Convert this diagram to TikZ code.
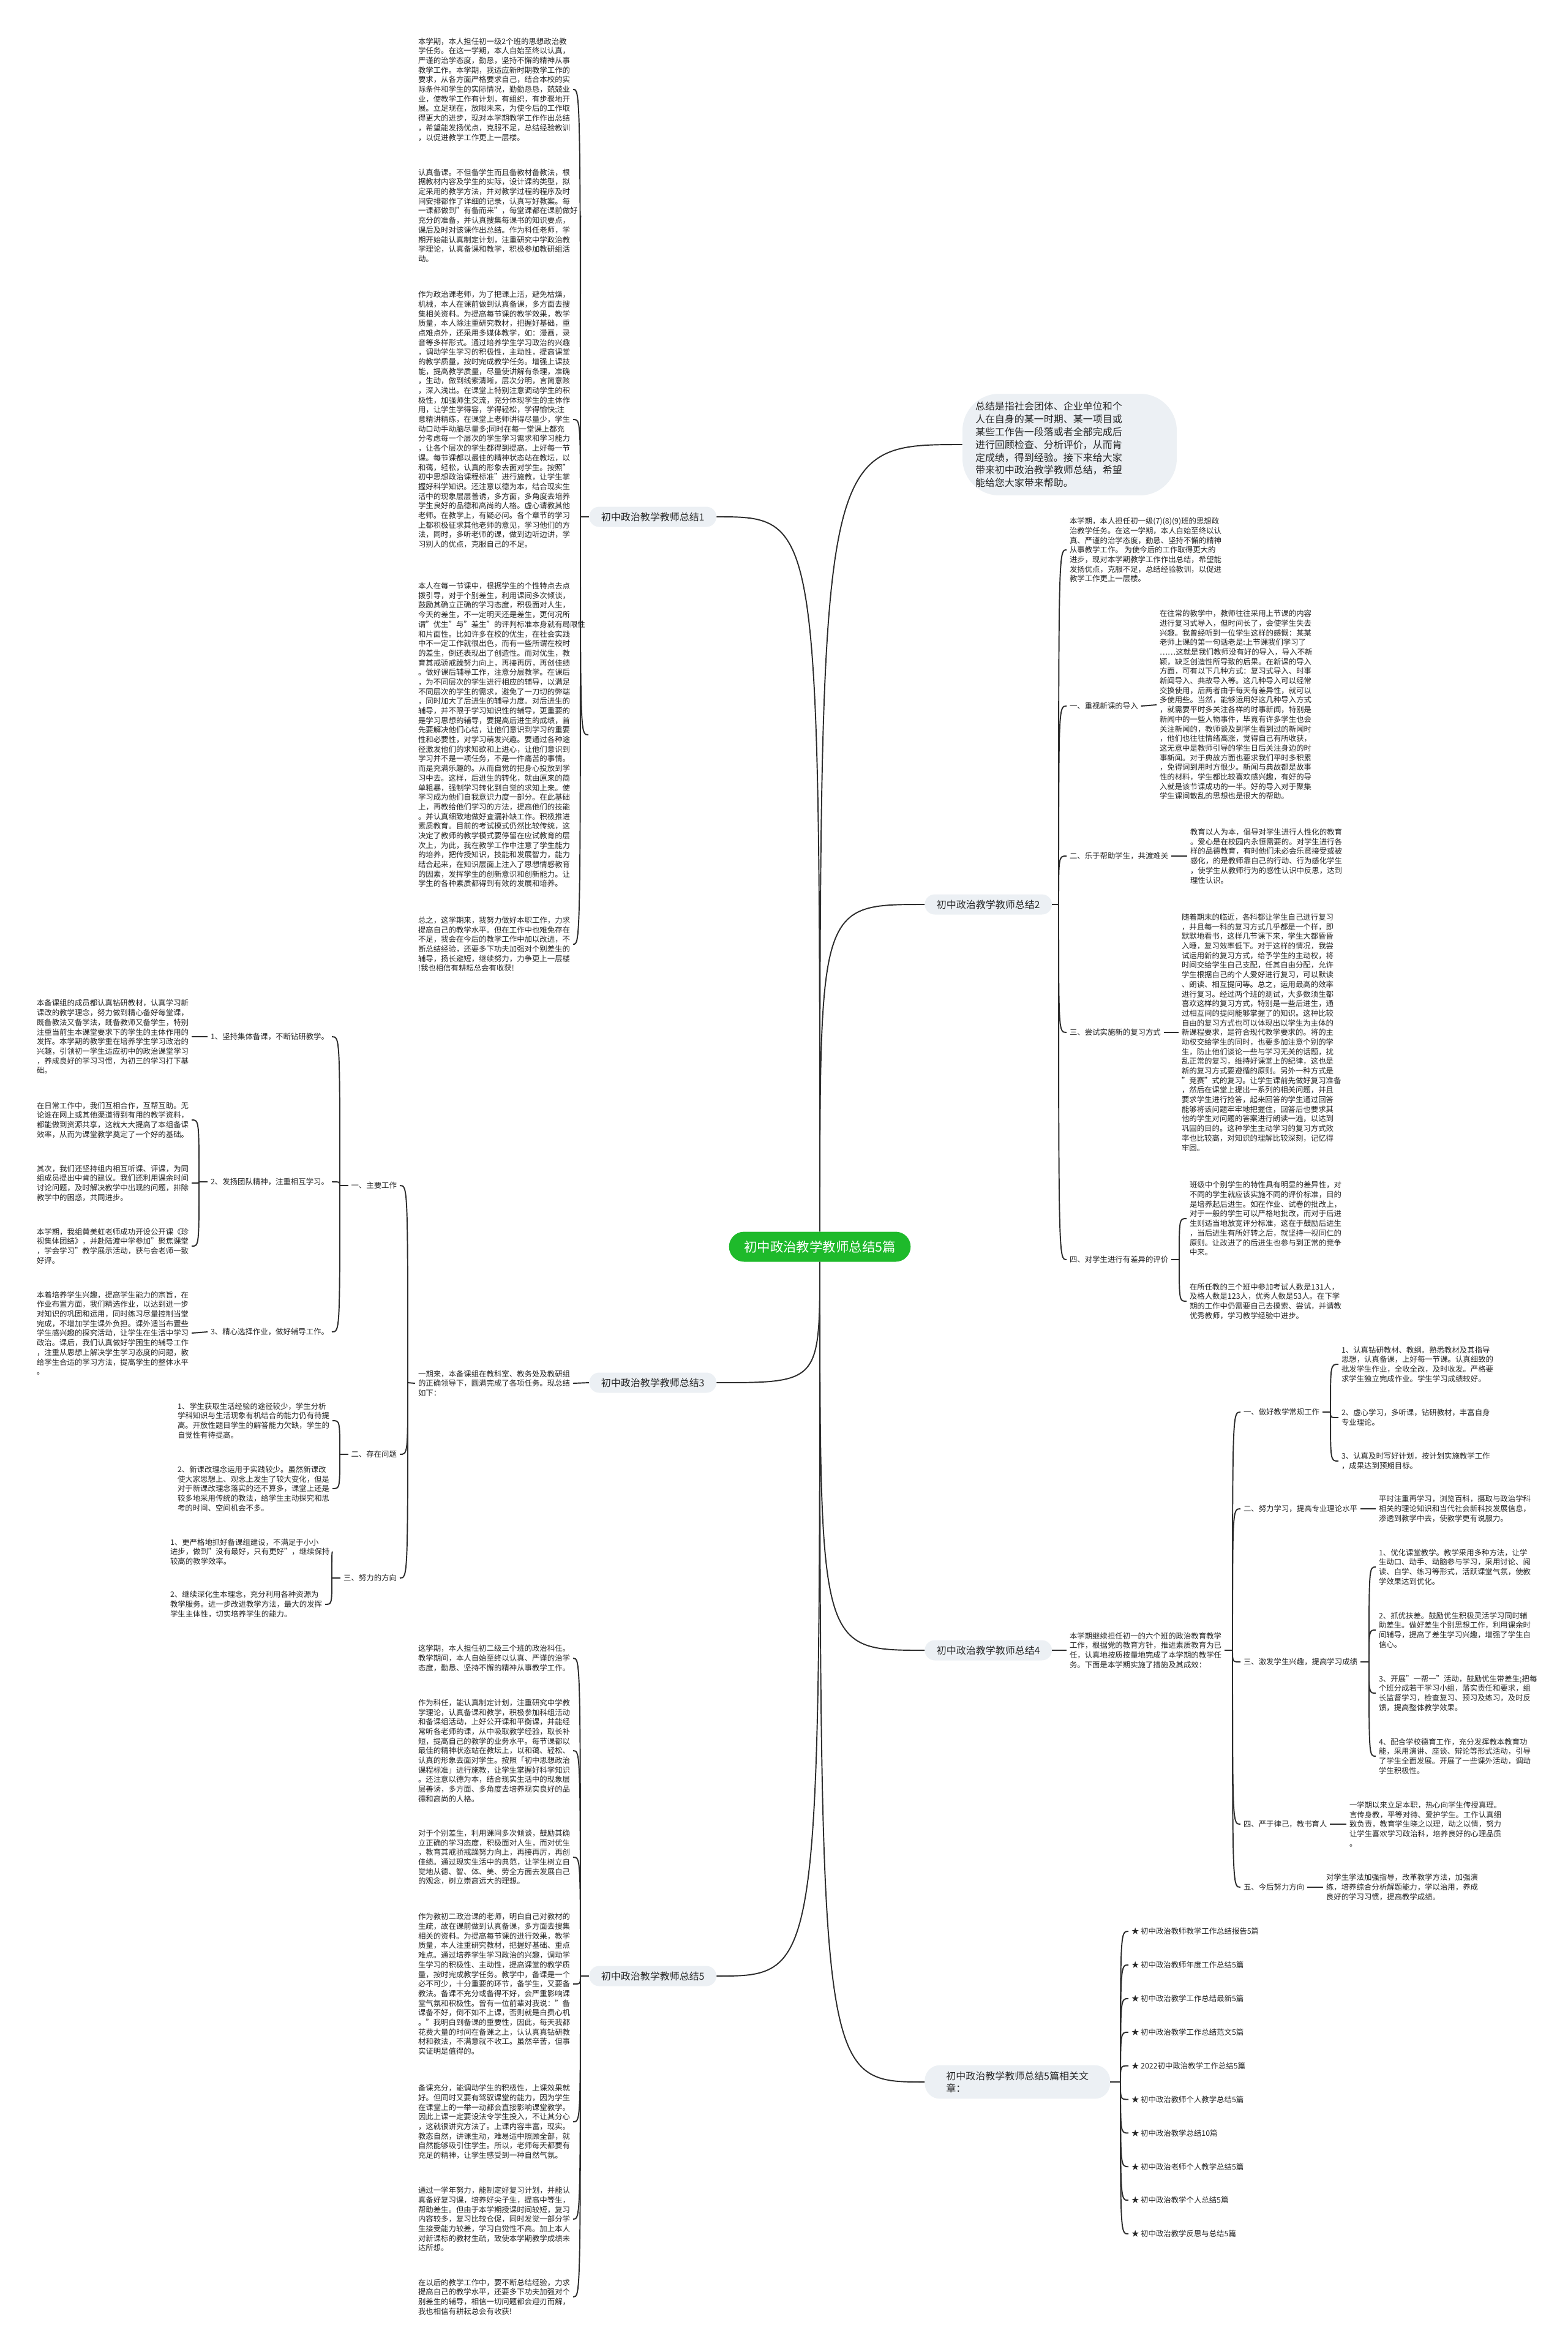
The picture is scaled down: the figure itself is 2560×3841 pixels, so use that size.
\documentclass[tikz,border=0pt]{standalone}
\usepackage{fontspec}
\setmainfont{Noto Sans CJK SC}
\definecolor{rootgreen}{RGB}{30,186,43}
\definecolor{topicfill}{RGB}{236,240,244}
\definecolor{linkgray}{RGB}{45,45,45}
\definecolor{notegray}{RGB}{38,38,38}
\newcommand{\notefont}{\fontsize{7.06pt}{8.93pt}\selectfont}
\newcommand{\topicfont}{\fontsize{9.1pt}{11.4pt}\selectfont}
\newcommand{\introfont}{\fontsize{9.1pt}{11.9pt}\selectfont}
\newcommand{\rootfont}{\fontsize{12.2pt}{14pt}\selectfont}
\tikzset{
  root/.style={fill=rootgreen, text=white, font=\rootfont, rounded corners=0.49cm,
    minimum height=0.98cm, inner xsep=0.49cm, inner ysep=0pt},
  topic/.style={fill=topicfill, text=notegray, font=\topicfont, rounded corners=0.33cm,
    minimum height=0.66cm, inner xsep=0.39cm, inner ysep=0pt, align=left},
  bubble/.style={fill=topicfill, rounded corners=1.2cm, minimum width=7.0cm, minimum height=3.32cm},
  note/.style={text=notegray, font=\notefont, align=left, inner sep=0pt, outer sep=0.1cm},
  link/.style={draw=linkgray, line width=1.1pt},
}
\begin{document}
\begin{tikzpicture}[x=0.02cm, y=-0.02cm]
\fill[white] (0,0) rectangle (2560,3841);
\useasboundingbox (0,0) rectangle (2560,3841);

% centre
\node[root] (root) at (1339,2036) {初中政治教学教师总结5篇};

% intro
\node[bubble] (intro) at (1747,726) {};
\node[note, font=\introfont, anchor=west, outer sep=0pt] (introtxt) at (1593,726) {总结是指社会团体、企业单位和个\\
人在自身的某一时期、某一项目或\\
某些工作告一段落或者全部完成后\\
进行回顾检查、分析评价，从而肯\\
定成绩，得到经验。接下来给大家\\
带来初中政治教学教师总结，希望\\
能给您大家带来帮助。};

% ---------- summary 1 ----------
\node[topic, anchor=west] (s1) at (962,844) {初中政治教学教师总结1};
\coordinate (j1) at (948,844);
\node[note, anchor=west] (s1a) at (678,146) {本学期，本人担任初一级2个班的思想政治教\\
学任务。在这一学期，本人自始至终以认真，\\
严谨的治学态度，勤恳，坚持不懈的精神从事\\
教学工作。本学期，我适应新时期教学工作的\\
要求，从各方面严格要求自己，结合本校的实\\
际条件和学生的实际情况，勤勤恳恳，兢兢业\\
业，使教学工作有计划，有组织，有步骤地开\\
展。立足现在，放眼未来，为使今后的工作取\\
得更大的进步，现对本学期教学工作作出总结\\
，希望能发扬优点，克服不足，总结经验教训\\
，以促进教学工作更上一层楼。};
\node[note, anchor=west] (s1b) at (678,352) {认真备课。不但备学生而且备教材备教法，根\\
据教材内容及学生的实际，设计课的类型，拟\\
定采用的教学方法，并对教学过程的程序及时\\
间安排都作了详细的记录，认真写好教案。每\\
一课都做到"有备而来"，每堂课都在课前做好\\
充分的准备，并认真搜集每课书的知识要点，\\
课后及时对该课作出总结。作为科任老师，学\\
期开始能认真制定计划，注重研究中学政治教\\
学理论，认真备课和教学，积极参加教研组活\\
动。};
\node[note, anchor=west] (s1c) at (678,685) {作为政治课老师，为了把课上活，避免枯燥，\\
机械，本人在课前做到认真备课，多方面去搜\\
集相关资料。为提高每节课的教学效果，教学\\
质量，本人除注重研究教材，把握好基础，重\\
点难点外，还采用多媒体教学，如：漫画，录\\
音等多样形式。通过培养学生学习政治的兴趣\\
，调动学生学习的积极性，主动性，提高课堂\\
的教学质量，按时完成教学任务。增强上课技\\
能，提高教学质量，尽量使讲解有条理，准确\\
，生动，做到线索清晰，层次分明，言简意赅\\
，深入浅出。在课堂上特别注意调动学生的积\\
极性，加强师生交流，充分体现学生的主体作\\
用，让学生学得容，学得轻松，学得愉快;注\\
意精讲精练，在课堂上老师讲得尽量少，学生\\
动口动手动脑尽量多;同时在每一堂课上都充\\
分考虑每一个层次的学生学习需求和学习能力\\
，让各个层次的学生都得到提高。上好每一节\\
课。每节课都以最佳的精神状态站在教坛，以\\
和蔼，轻松，认真的形象去面对学生。按照"\\
初中思想政治课程标准"进行施教，让学生掌\\
握好科学知识。还注意以德为本，结合现实生\\
活中的现象层层善诱，多方面，多角度去培养\\
学生良好的品德和高尚的人格。虚心请教其他\\
老师。在教学上，有疑必问。各个章节的学习\\
上都积极征求其他老师的意见，学习他们的方\\
法，同时，多听老师的课，做到边听边讲，学\\
习别人的优点，克服自己的不足。};
\node[note, anchor=west] (s1d) at (678,1200) {本人在每一节课中，根据学生的个性特点去点\\
拨引导，对于个别差生，利用课间多次倾谈，\\
鼓励其确立正确的学习态度，积极面对人生，\\
今天的差生，不一定明天还是差生，更何况所\\
谓"优生"与"差生"的评判标准本身就有局限性\\
和片面性。比如许多在校的优生，在社会实践\\
中不一定工作就很出色，而有一些所谓在校时\\
的差生，倒还表现出了创造性。而对优生，教\\
育其戒骄戒躁努力向上，再接再厉，再创佳绩\\
。做好课后辅导工作，注意分层教学。在课后\\
，为不同层次的学生进行相应的辅导，以满足\\
不同层次的学生的需求，避免了一刀切的弊端\\
，同时加大了后进生的辅导力度。对后进生的\\
辅导，并不限于学习知识性的辅导，更重要的\\
是学习思想的辅导，要提高后进生的成绩，首\\
先要解决他们心结，让他们意识到学习的重要\\
性和必要性，对学习萌发兴趣。要通过各种途\\
径激发他们的求知欲和上进心，让他们意识到\\
学习并不是一项任务，不是一件痛苦的事情。\\
而是充满乐趣的。从而自觉的把身心投放到学\\
习中去。这样，后进生的转化，就由原来的简\\
单粗暴，强制学习转化到自觉的求知上来。使\\
学习成为他们自我意识力度一部分。在此基础\\
上，再教给他们学习的方法，提高他们的技能\\
。并认真细致地做好查漏补缺工作。积极推进\\
素质教育。目前的考试模式仍然比较传统，这\\
决定了教师的教学模式要停留在应试教育的层\\
次上，为此，我在教学工作中注意了学生能力\\
的培养，把传授知识，技能和发展智力，能力\\
结合起来，在知识层面上注入了思想情感教育\\
的因素，发挥学生的创新意识和创新能力。让\\
学生的各种素质都得到有效的发展和培养。};
\node[note, anchor=west] (s1e) at (678,1542) {总之，这学期来，我努力做好本职工作，力求\\
提高自己的教学水平。但在工作中也难免存在\\
不足，我会在今后的教学工作中加以改进，不\\
断总结经验，还要多下功夫加强对个别差生的\\
辅导，扬长避短，继续努力，力争更上一层楼\\
!我也相信有耕耘总会有收获!};
\draw[link] (s1.west) -- (j1);
\foreach \c in {s1a,s1b,s1c,s1d,s1e}
  \draw[link] (j1) .. controls (j1 |- \c.east) .. (\c.east);

% ---------- summary 2 ----------
\node[topic, anchor=west] (s2) at (1510,1477) {初中政治教学教师总结2};
\coordinate (j2) at (1729,1477);
\node[note, anchor=west] (s2a) at (1742,898) {本学期，本人担任初一级(7)(8)(9)班的思想政\\
治教学任务。在这一学期，本人自始至终以认\\
真、严谨的治学态度，勤恳、坚持不懈的精神\\
从事教学工作。 为使今后的工作取得更大的\\
进步，现对本学期教学工作作出总结，希望能\\
发扬优点，克服不足，总结经验教训，以促进\\
教学工作更上一层楼。};
\node[note, anchor=west] (s2b) at (1742,1153) {一、重视新课的导入};
\node[note, anchor=west] (s2bx) at (1889,1151) {在往常的教学中，教师往往采用上节课的内容\\
进行复习式导入，但时间长了，会使学生失去\\
兴趣。我曾经听到一位学生这样的感慨：某某\\
老师上课的第一句话老是:上节课我们学习了\\
……这就是我们教师没有好的导入，导入不新\\
颖，缺乏创造性所导致的后果。在新课的导入\\
方面，可有以下几种方式：复习式导入、时事\\
新闻导入、典故导入等。这几种导入可以经常\\
交换使用，后两者由于每天有差异性，就可以\\
多使用些。当然，能够运用好这几种导入方式\\
，就需要平时多关注各样的时事新闻，特别是\\
新闻中的一些人物事件，毕竟有许多学生也会\\
关注新闻的，教师谈及到学生看到过的新闻时\\
，他们也往往情绪高涨，觉得自己有所收获，\\
这无意中是教师引导的学生日后关注身边的时\\
事新闻。对于典故方面也要求我们平时多积累\\
，免得词到用时方恨少。新闻与典故都是故事\\
性的材料，学生都比较喜欢感兴趣，有好的导\\
入就是该节课成功的一半。好的导入对于聚集\\
学生课间散乱的思想也是很大的帮助。};
\node[note, anchor=west] (s2c) at (1742,1398) {二、乐于帮助学生，共渡难关};
\node[note, anchor=west] (s2cx) at (1939,1398) {教育以人为本，倡导对学生进行人性化的教育\\
。爱心是在校园内永恒需要的。对学生进行各\\
样的品德教育，有时他们未必会乐意接受或被\\
感化，的是教师靠自己的行动、行为感化学生\\
，使学生从教师行为的感性认识中反思，达到\\
理性认识。};
\node[note, anchor=west] (s2d) at (1742,1686) {三、尝试实施新的复习方式};
\node[note, anchor=west] (s2dx) at (1925,1686) {随着期末的临近，各科都让学生自己进行复习\\
，并且每一科的复习方式几乎都是一个样，即\\
默默地看书，这样几节课下来，学生大都昏昏\\
入睡，复习效率低下。对于这样的情况，我尝\\
试运用新的复习方式，给予学生的主动权，将\\
时间交给学生自己支配，任其自由分配，允许\\
学生根据自己的个人爱好进行复习，可以默读\\
、朗读、相互提问等。总之，运用最高的效率\\
进行复习。经过两个班的测试，大多数须生都\\
喜欢这样的复习方式，特别是一些后进生，通\\
过相互间的提问能够掌握了的知识。这种比较\\
自由的复习方式也可以体现出以学生为主体的\\
新课程要求，是符合现代教学要求的。将的主\\
动权交给学生的同时，也要多加注意个别的学\\
生，防止他们谈论一些与学习无关的话题，扰\\
乱正常的复习，维持好课堂上的纪律，这也是\\
新的复习方式要遵循的原则。另外一种方式是\\
"竞赛"式的复习。让学生课前先做好复习准备\\
，然后在课堂上提出一系列的相关问题，并且\\
要求学生进行抢答，起来回答的学生通过回答\\
能够将该问题牢牢地把握住，回答后也要求其\\
他的学生对问题的答案进行朗读一遍，以达到\\
巩固的目的。这种学生主动学习的复习方式效\\
率也比较高，对知识的理解比较深刻，记忆得\\
牢固。};
\node[note, anchor=west] (s2e) at (1742,2057) {四、对学生进行有差异的评价};
\coordinate (j2e) at (1926,2057);
\node[note, anchor=west] (s2e1) at (1938,1990) {班级中个别学生的特性具有明显的差异性，对\\
不同的学生就应该实施不同的评价标准，目的\\
是培养起后进生。如在作业、试卷的批改上，\\
对于一般的学生可以严格地批改，而对于后进\\
生则适当地放宽评分标准，这在于鼓励后进生\\
，当后进生有所好转之后，就坚持一视同仁的\\
原则。让改进了的后进生也参与到正常的竞争\\
中来。};
\node[note, anchor=west] (s2e2) at (1938,2125) {在所任教的三个班中参加考试人数是131人，\\
及格人数是123人，优秀人数是53人。在下学\\
期的工作中仍需要自己去摸索、尝试，并请教\\
优秀教师，学习教学经验中进步。};
\draw[link] (s2.east) -- (j2);
\foreach \c in {s2a,s2b,s2c,s2d,s2e}
  \draw[link] (j2) .. controls (j2 |- \c.west) .. (\c.west);
\foreach \c in {s2b,s2c,s2d}
  \draw[link] (\c.east) -- (\c x.west);
\draw[link] (s2e.east) -- (j2e);
\foreach \c in {s2e1,s2e2}
  \draw[link] (j2e) .. controls (j2e |- \c.west) .. (\c.west);

% ---------- summary 3 ----------
\node[topic, anchor=west] (s3) at (962,2258) {初中政治教学教师总结3};
\node[note, anchor=west] (s3x) at (678,2259) {一期来，本备课组在教科室、教务处及教研组\\
的正确领导下，圆满完成了各项任务。现总结\\
如下：};
\coordinate (j3) at (666,2258);
\node[note, anchor=east] (s3a) at (653,1936) {一、主要工作};
\node[note, anchor=east] (s3b) at (653,2375) {二、存在问题};
\node[note, anchor=east] (s3c) at (653,2577) {三、努力的方向};
\draw[link] (s3.west) -- (s3x.east);
\draw[link] (s3x.west) -- (j3);
\foreach \c in {s3a,s3b,s3c}
  \draw[link] (j3) .. controls (j3 |- \c.east) .. (\c.east);

\coordinate (j3a) at (555,1936);
\node[note, anchor=east] (s3a1) at (542,1693) {1、坚持集体备课，不断钻研教学。};
\node[note, anchor=east] (s3a2) at (542,1930) {2、发扬团队精神，注重相互学习。};
\node[note, anchor=east] (s3a3) at (542,2175) {3、精心选择作业，做好辅导工作。};
\draw[link] (s3a.west) -- (j3a);
\foreach \c in {s3a1,s3a2,s3a3}
  \draw[link] (j3a) .. controls (j3a |- \c.east) .. (\c.east);
\node[note, anchor=west] (s3a1x) at (55,1693) {本备课组的成员都认真钻研教材，认真学习新\\
课改的教学理念，努力做到精心备好每堂课，\\
既备教法又备学法，既备教师又备学生，特别\\
注重当前生本课堂要求下的学生的主体作用的\\
发挥。本学期的教学重在培养学生学习政治的\\
兴趣，引领初一学生适应初中的政治课堂学习\\
，养成良好的学习习惯，为初三的学习打下基\\
础。};
\draw[link] (s3a1.west) -- (s3a1x.east);
\coordinate (j3a2) at (325,1930);
\node[note, anchor=west] (s3a2a) at (55,1829) {在日常工作中，我们互相合作，互帮互助。无\\
论谁在网上或其他渠道得到有用的教学资料，\\
都能做到资源共享，这就大大提高了本组备课\\
效率，从而为课堂教学奠定了一个好的基础。};
\node[note, anchor=west] (s3a2b) at (55,1932) {其次，我们还坚持组内相互听课、评课，为同\\
组成员提出中肯的建议。我们还利用课余时间\\
讨论问题，及时解决教学中出现的问题，排除\\
教学中的困惑，共同进步。};
\node[note, anchor=west] (s3a2c) at (55,2035) {本学期，我组黄美虹老师成功开设公开课《珍\\
视集体团结》，并赴陆渡中学参加"聚焦课堂\\
，学会学习"教学展示活动，获与会老师一致\\
好评。};
\draw[link] (s3a2.west) -- (j3a2);
\foreach \c in {s3a2a,s3a2b,s3a2c}
  \draw[link] (j3a2) .. controls (j3a2 |- \c.east) .. (\c.east);
\node[note, anchor=west] (s3a3x) at (55,2177) {本着培养学生兴趣，提高学生能力的宗旨，在\\
作业布置方面，我们精选作业，以达到进一步\\
对知识的巩固和运用，同时练习尽量控制当堂\\
完成，不增加学生课外负担。课外适当布置些\\
学生感兴趣的探究活动，让学生在生活中学习\\
政治。课后，我们认真做好学困生的辅导工作\\
，注重从思想上解决学生学习态度的问题，教\\
给学生合适的学习方法，提高学生的整体水平\\
。};
\draw[link] (s3a3.west) -- (s3a3x.east);

\coordinate (j3b) at (555,2375);
\node[note, anchor=west] (s3b1) at (285,2320) {1、学生获取生活经验的途径较少，学生分析\\
学科知识与生活现象有机结合的能力仍有待提\\
高。开放性题目学生的解答能力欠缺，学生的\\
自觉性有待提高。};
\node[note, anchor=west] (s3b2) at (285,2431) {2、新课改理念运用于实践较少。虽然新课改\\
使大家思想上、观念上发生了较大变化，但是\\
对于新课改理念落实的还不算多，课堂上还是\\
较多地采用传统的教法，给学生主动探究和思\\
考的时间、空间机会不多。};
\draw[link] (s3b.west) -- (j3b);
\foreach \c in {s3b1,s3b2}
  \draw[link] (j3b) .. controls (j3b |- \c.east) .. (\c.east);

\coordinate (j3c) at (542,2577);
\node[note, anchor=west] (s3c1) at (273,2534) {1、更严格地抓好备课组建设，不满足于小小\\
进步，做到"没有最好，只有更好"，继续保持\\
较高的教学效率。};
\node[note, anchor=west] (s3c2) at (273,2620) {2、继续深化生本理念，充分利用各种资源为\\
教学服务。进一步改进教学方法，最大的发挥\\
学生主体性，切实培养学生的能力。};
\draw[link] (s3c.west) -- (j3c);
\foreach \c in {s3c1,s3c2}
  \draw[link] (j3c) .. controls (j3c |- \c.east) .. (\c.east);

% ---------- summary 4 ----------
\node[topic, anchor=west] (s4) at (1510,2695) {初中政治教学教师总结4};
\node[note, anchor=west] (s4x) at (1742,2695) {本学期继续担任初一的六个班的政治教育教学\\
工作，根据党的教育方针，推进素质教育为已\\
任，认真地按质按量地完成了本学期的教学任\\
务。下面是本学期实施了措施及其成效：};
\coordinate (j4) at (2013,2695);
\draw[link] (s4.east) -- (s4x.west);
\draw[link] (s4x.east) -- (j4);
\node[note, anchor=west] (s4a) at (2026,2306) {一、做好教学常规工作};
\node[note, anchor=west] (s4b) at (2026,2464) {二、努力学习，提高专业理论水平};
\node[note, anchor=west] (s4c) at (2026,2714) {三、激发学生兴趣，提高学习成绩};
\node[note, anchor=west] (s4d) at (2026,2979) {四、严于律己，教书育人};
\node[note, anchor=west] (s4e) at (2026,3082) {五、今后努力方向};
\foreach \c in {s4a,s4b,s4c,s4d,s4e}
  \draw[link] (j4) .. controls (j4 |- \c.west) .. (\c.west);

\coordinate (j4a) at (2173,2306);
\node[note, anchor=west] (s4a1) at (2186,2228) {1、认真钻研教材、教纲。熟悉教材及其指导\\
思想，认真备课，上好每一节课。认真细致的\\
批发学生作业，全收全改，及时收发。严格要\\
求学生独立完成作业。学生学习成绩较好。};
\node[note, anchor=west] (s4a2) at (2186,2315) {2、虚心学习，多听课，钻研教材，丰富自身\\
专业理论。};
\node[note, anchor=west] (s4a3) at (2186,2386) {3、认真及时写好计划，按计划实施教学工作\\
，成果达到预期目标。};
\draw[link] (s4a.east) -- (j4a);
\foreach \c in {s4a1,s4a2,s4a3}
  \draw[link] (j4a) .. controls (j4a |- \c.west) .. (\c.west);

\node[note, anchor=west] (s4bx) at (2247,2464) {平时注重再学习，浏览百科，摄取与政治学科\\
相关的理论知识和当代社会新科技发展信息，\\
渗透到教学中去，使教学更有说服力。};
\draw[link] (s4b.east) -- (s4bx.west);

\coordinate (j4c) at (2236,2714);
\node[note, anchor=west] (s4c1) at (2247,2559) {1、优化课堂教学。教学采用多种方法，让学\\
生动口、动手、动脑参与学习，采用讨论、阅\\
读、自学、练习等形式，活跃课堂气氛，使教\\
学效果达到优化。};
\node[note, anchor=west] (s4c2) at (2247,2662) {2、抓优扶差。鼓励优生积极灵活学习同时辅\\
助差生。做好差生个别思想工作，利用课余时\\
间辅导，提高了差生学习兴趣，增强了学生自\\
信心。};
\node[note, anchor=west] (s4c3) at (2247,2765) {3、开展"一帮一"活动，鼓励优生带差生;把每\\
个班分成若干学习小组，落实责任和要求，组\\
长监督学习，检查复习、预习及练习，及时反\\
馈，提高整体教学效果。};
\node[note, anchor=west] (s4c4) at (2247,2868) {4、配合学校德育工作，充分发挥教本教育功\\
能，采用演讲、座谈、辩论等形式活动，引导\\
了学生全面发展。开展了一些课外活动，调动\\
学生积极性。};
\draw[link] (s4c.east) -- (j4c);
\foreach \c in {s4c1,s4c2,s4c3,s4c4}
  \draw[link] (j4c) .. controls (j4c |- \c.west) .. (\c.west);

\node[note, anchor=west] (s4dx) at (2199,2979) {一学期以来立足本职，热心向学生传授真理。\\
言传身教，平等对待、爱护学生。工作认真细\\
致负责，教育学生晓之以理，动之以情，努力\\
让学生喜欢学习政治科，培养良好的心理品质\\
。};
\draw[link] (s4d.east) -- (s4dx.west);
\node[note, anchor=west] (s4ex) at (2161,3082) {对学生学法加强指导，改革教学方法，加强演\\
练，培养综合分析解题能力，学以治用，养成\\
良好的学习习惯，提高教学成绩。};
\draw[link] (s4e.east) -- (s4ex.west);

% ---------- summary 5 ----------
\node[topic, anchor=west] (s5) at (962,3227) {初中政治教学教师总结5};
\coordinate (j5) at (948,3227);
\node[note, anchor=west] (s5a) at (678,2708) {这学期，本人担任初二级三个班的政治科任。\\
教学期间，本人自始至终以认真、严谨的治学\\
态度，勤恳、坚持不懈的精神从事教学工作。};
\node[note, anchor=west] (s5b) at (678,2859) {作为科任，能认真制定计划，注重研究中学教\\
学理论，认真备课和教学，积极参加科组活动\\
和备课组活动，上好公开课和平衡课，并能经\\
常听各老师的课，从中吸取教学经验，取长补\\
短，提高自己的教学的业务水平。每节课都以\\
最佳的精神状态站在教坛上，以和蔼、轻松、\\
认真的形象去面对学生。按照「初中思想政治\\
课程标准」进行施教，让学生掌握好科学知识\\
。还注意以德为本，结合现实生活中的现象层\\
层善诱，多方面、多角度去培养现实良好的品\\
德和高尚的人格。};
\node[note, anchor=west] (s5c) at (678,3033) {对于个别差生，利用课间多次倾谈，鼓励其确\\
立正确的学习态度，积极面对人生，而对优生\\
，教育其戒骄戒躁努力向上，再接再厉，再创\\
佳绩。通过现实生活中的典范，让学生树立自\\
觉地从德、智、体、美、劳全方面去发展自己\\
的观念，树立崇高远大的理想。};
\node[note, anchor=west] (s5d) at (678,3240) {作为教初二政治课的老师，明白自己对教材的\\
生疏，故在课前做到认真备课，多方面去搜集\\
相关的资料。为提高每节课的进行效果，教学\\
质量，本人注重研究教材，把握好基础、重点\\
难点。通过培养学生学习政治的兴趣，调动学\\
生学习的积极性、主动性，提高课堂的教学质\\
量，按时完成教学任务。教学中，备课是一个\\
必不可少，十分重要的环节，备学生，又要备\\
教法。备课不充分或备得不好，会严重影响课\\
堂气氛和积极性。曾有一位前辈对我说："备\\
课备不好，倒不如不上课，否则就是白费心机\\
。"我明白到备课的重要性，因此，每天我都\\
花费大量的时间在备课之上，认认真真钻研教\\
材和教法，不满意就不收工。虽然辛苦，但事\\
实证明是值得的。};
\node[note, anchor=west] (s5e) at (678,3465) {备课充分，能调动学生的积极性，上课效果就\\
好。但同时又要有驾驭课堂的能力，因为学生\\
在课堂上的一举一动都会直接影响课堂教学。\\
因此上课一定要设法令学生投入，不让其分心\\
，这就很讲究方法了。上课内容丰富，现实。\\
教态自然，讲课生动，难易适中照顾全部，就\\
自然能够吸引住学生。所以，老师每天都要有\\
充足的精神，让学生感受到一种自然气氛。};
\node[note, anchor=west] (s5f) at (678,3624) {通过一学年努力，能制定好复习计划，并能认\\
真备好复习课，培养好尖子生，提高中等生，\\
帮助差生。但由于本学期授课时间较短，复习\\
内容较多，复习比较仓促，同时发觉一部分学\\
生接受能力较差，学习自觉性不高。加上本人\\
对新课标的教材生疏，致使本学期教学成绩未\\
达所想。};
\node[note, anchor=west] (s5g) at (678,3751) {在以后的教学工作中，要不断总结经验，力求\\
提高自己的教学水平，还要多下功夫加强对个\\
别差生的辅导，相信一切问题都会迎刃而解，\\
我也相信有耕耘总会有收获!};
\draw[link] (s5.west) -- (j5);
\foreach \c in {s5a,s5b,s5c,s5d,s5e,s5f,s5g}
  \draw[link] (j5) .. controls (j5 |- \c.east) .. (\c.east);

% ---------- related ----------
\node[topic, anchor=west, inner xsep=0.7cm, inner ysep=0.2cm, rounded corners=0.5cm] (rel) at (1510,3400) {初中政治教学教师总结5篇相关文\\章：};
\coordinate (jr) at (1830,3400);
\draw[link] (rel.east) -- (jr);
\foreach \t [count=\i from 0] in {初中政治教师教学工作总结报告5篇, 初中政治教师年度工作总结5篇,
  初中政治教学工作总结最新5篇, 初中政治教学工作总结范文5篇, 2022初中政治教学工作总结5篇,
  初中政治教师个人教学总结5篇, 初中政治教学总结10篇, 初中政治老师个人教学总结5篇,
  初中政治教学个人总结5篇, 初中政治教学反思与总结5篇} {
  \node[note, anchor=west] (r\i) at (1843,3154+54.9*\i) {★ \t};
  \draw[link] (jr) .. controls (jr |- r\i.west) .. (r\i.west);
}

% centre links
\draw[link] (root.north) .. controls (root.north |- s1.east) .. (s1.east);
\draw[link] (root.north) .. controls (root.north |- intro.west) .. (intro.west);
\draw[link] (root.north) .. controls (root.north |- s2.west) .. (s2.west);
\draw[link] (root.south) .. controls (root.south |- s3.east) .. (s3.east);
\draw[link] (root.south) .. controls (root.south |- s4.west) .. (s4.west);
\draw[link] (root.south) .. controls (root.south |- s5.east) .. (s5.east);
\draw[link] (root.south) .. controls (root.south |- rel.west) .. (rel.west);
\end{tikzpicture}
\end{document}
